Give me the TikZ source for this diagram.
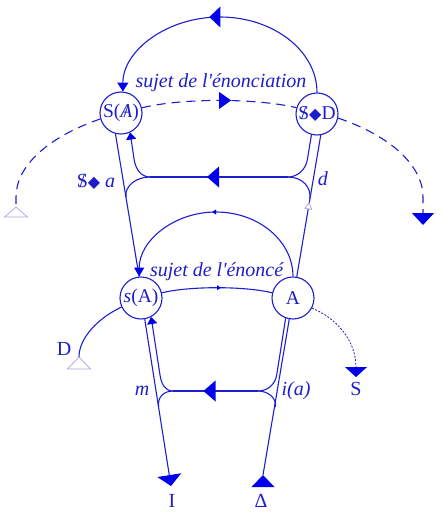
\documentclass[tikz,border=0pt]{standalone}
\usepackage{fontspec}
\setmainfont{Liberation Serif}
\newfontfamily\djv{DejaVu Sans}
\usetikzlibrary{arrows.meta,decorations.markings}
\definecolor{lc}{RGB}{30,30,205}
\definecolor{ac}{RGB}{0,0,235}
\definecolor{tc}{RGB}{30,30,200}
\definecolor{pale}{RGB}{170,170,225}
\newcommand\myBarS{\ooalign{S\cr\hidewidth/\hidewidth}}
\newcommand\myBarA{\ooalign{\textit{A}\cr\hidewidth/\hidewidth}}
\newcommand\myDiam{{\djv\fontsize{16}{16}\selectfont ◆}}
\tikzset{
  ln/.style={draw=lc, line width=1.1pt},
  circ/.style={circle, draw=lc, line width=1.1pt, minimum size=42pt, inner sep=0pt, text=tc, font=\fontsize{19.5}{22}\selectfont},
  lbl/.style={text=tc, inner sep=0pt, font=\fontsize{20}{22}\selectfont},
  dsh/.style={ln, dash pattern=on 9pt off 6pt},
  dott/.style={draw=lc, line width=0.8pt, dash pattern=on 2pt off 1.5pt},
  opentri/.style={draw=pale, fill=white, line width=0.8pt},
  midtri/.style args={#1/#2/#3}{postaction={decorate, decoration={markings,
      mark=at position #1 with {\fill[ac] (#2,0pt) -- (0pt,#3) -- (0pt,-#3) -- cycle;}}}},
  midopen/.style={postaction={decorate, decoration={markings,
      mark=at position #1 with {\draw[opentri] (6pt,0pt) -- (0pt,3.5pt) -- (0pt,-3.5pt) -- cycle;}}}},
  endtri/.style args={#1/#2}{-{Triangle[width=#1,length=#2,color=ac]}}
}
\begin{document}
\begin{tikzpicture}[x=1pt,y=-1pt]
\useasboundingbox (0,0) rectangle (445,519);
% nodes
\node[circ] (SA) at (121,113) {S(\myBarA)};
\node[circ] (SD) at (317,114) {\myBarS\myDiam D};
\node[circ] (sA) at (141,298) {\textit{s}(A)};
\node[circ] (A) at (293,298) {A};
% labels
\node[lbl, anchor=base] (t1) at (221,87) {\textit{sujet de l\textquotesingle énonciation}};
\node[lbl, anchor=base] (t2) at (217,276) {\textit{sujet de l\textquotesingle énoncé}};
\node[lbl, anchor=base] (lSa) at (96,187) {\myBarS\myDiam\ \textit{a}};
\node[lbl, anchor=base] (ld) at (323,185) {\textit{d}};
\node[lbl, anchor=base] (lm) at (142,395) {\textit{m}};
\node[lbl, anchor=base] (lia) at (296,395) {\textit{i(a)}};
\node[lbl, anchor=base] (lD) at (64,355) {D};
\node[lbl, anchor=base] (lS) at (356,395) {S};
\node[lbl, anchor=base] (lI) at (172,507) {I};
\node[lbl, anchor=base] (lDel) at (261,507) {Δ};
% top arc
\draw[ln, midtri={0.5/11pt/10.5pt}, endtri={11pt/9pt}] (SD.north) .. controls (317,51) and (273.6,17) .. (220,17) .. controls (166.4,17) and (122.8,51) .. (SA.85);
% dashed line
\draw[dsh] (SA.196) .. controls (48,137) and (16,166) .. (16,197) -- (16,207) coordinate (le);
\draw[opentri] (le) -- ++(-11.5,10) -- ++(23,0) -- cycle;
\draw[dsh, midtri={0.5/12pt/8.5pt}] (SA.14) .. controls (182,98) and (256,98) .. (SD.163);
\draw[dsh, endtri={22pt/12pt}] (SD.-11) .. controls (391,136) and (423,166) .. (423,197) -- (423,225);
% outer lines
\draw[ln] (SA.-105) -- (sA.95);
\draw[ln, endtri={24pt/11pt}] (sA.-80) -- (171,486) coordinate (itip);
\draw[ln, midopen=0.48] (A.80) -- (SD.-80);
\coordinate (dtip) at (263,475);
\draw[ln] (dtip) -- (A.-100);
\fill[ac] (dtip) -- ++(-11.5,12) -- ++(23,0) -- cycle;
% upper loop
\draw[ln] (SD.-105) -- (307.3,160) .. controls (305.8,169) and (298,177) .. (288,177) coordinate (hr);
\draw[ln, midtri={0.5/12pt/10.5pt}] (hr) -- (150,177) coordinate (hl);
\draw[ln, endtri={10pt/7pt}] (hl) .. controls (141,177) and (135.7,169) .. (134.2,160) -- (SA.-65);
\draw[ln] (hl) .. controls (135,177) and (124.4,187) .. (126,197);
\draw[ln] (hr) .. controls (303,177) and (311.6,188) .. (309.8,199);
% lower loop
\draw[ln] (A.-110) -- (276.7,375) .. controls (275.3,384) and (268,391) .. (258,391) coordinate (br);
\draw[ln, midtri={0.5/12pt/10.5pt}] (br) -- (173,391) coordinate (bl);
\draw[ln, endtri={10pt/7pt}] (bl) .. controls (165,391) and (161.4,384) .. (160,375) -- (sA.-62);
\draw[ln] (bl) .. controls (163,391) and (157.2,398) .. (158.6,407);
\draw[ln] (br) .. controls (268,391) and (276.8,398) .. (275.4,407);
% enonce arc
\draw[ln, midtri={0.5/4pt/2.5pt}, endtri={10pt/9pt}] (A.north) .. controls (293,241) and (258.5,212) .. (216,212) .. controls (173.5,212) and (139.2,241) .. (sA.95);
% middle arc
\draw[ln, midtri={0.5/4pt/2.5pt}] (sA.14) .. controls (190,286) and (244,286) .. (A.166);
% D and S curves
\draw[ln] (sA.205) .. controls (98,318) and (79,338) .. (79,357) coordinate (dend);
\draw[opentri] (dend) -- ++(-11.5,12) -- ++(23,0) -- cycle;
\draw[dott, endtri={22pt/10pt}] (A.-28) .. controls (336,318) and (356,340) .. (356,377);
\end{tikzpicture}
\end{document}
